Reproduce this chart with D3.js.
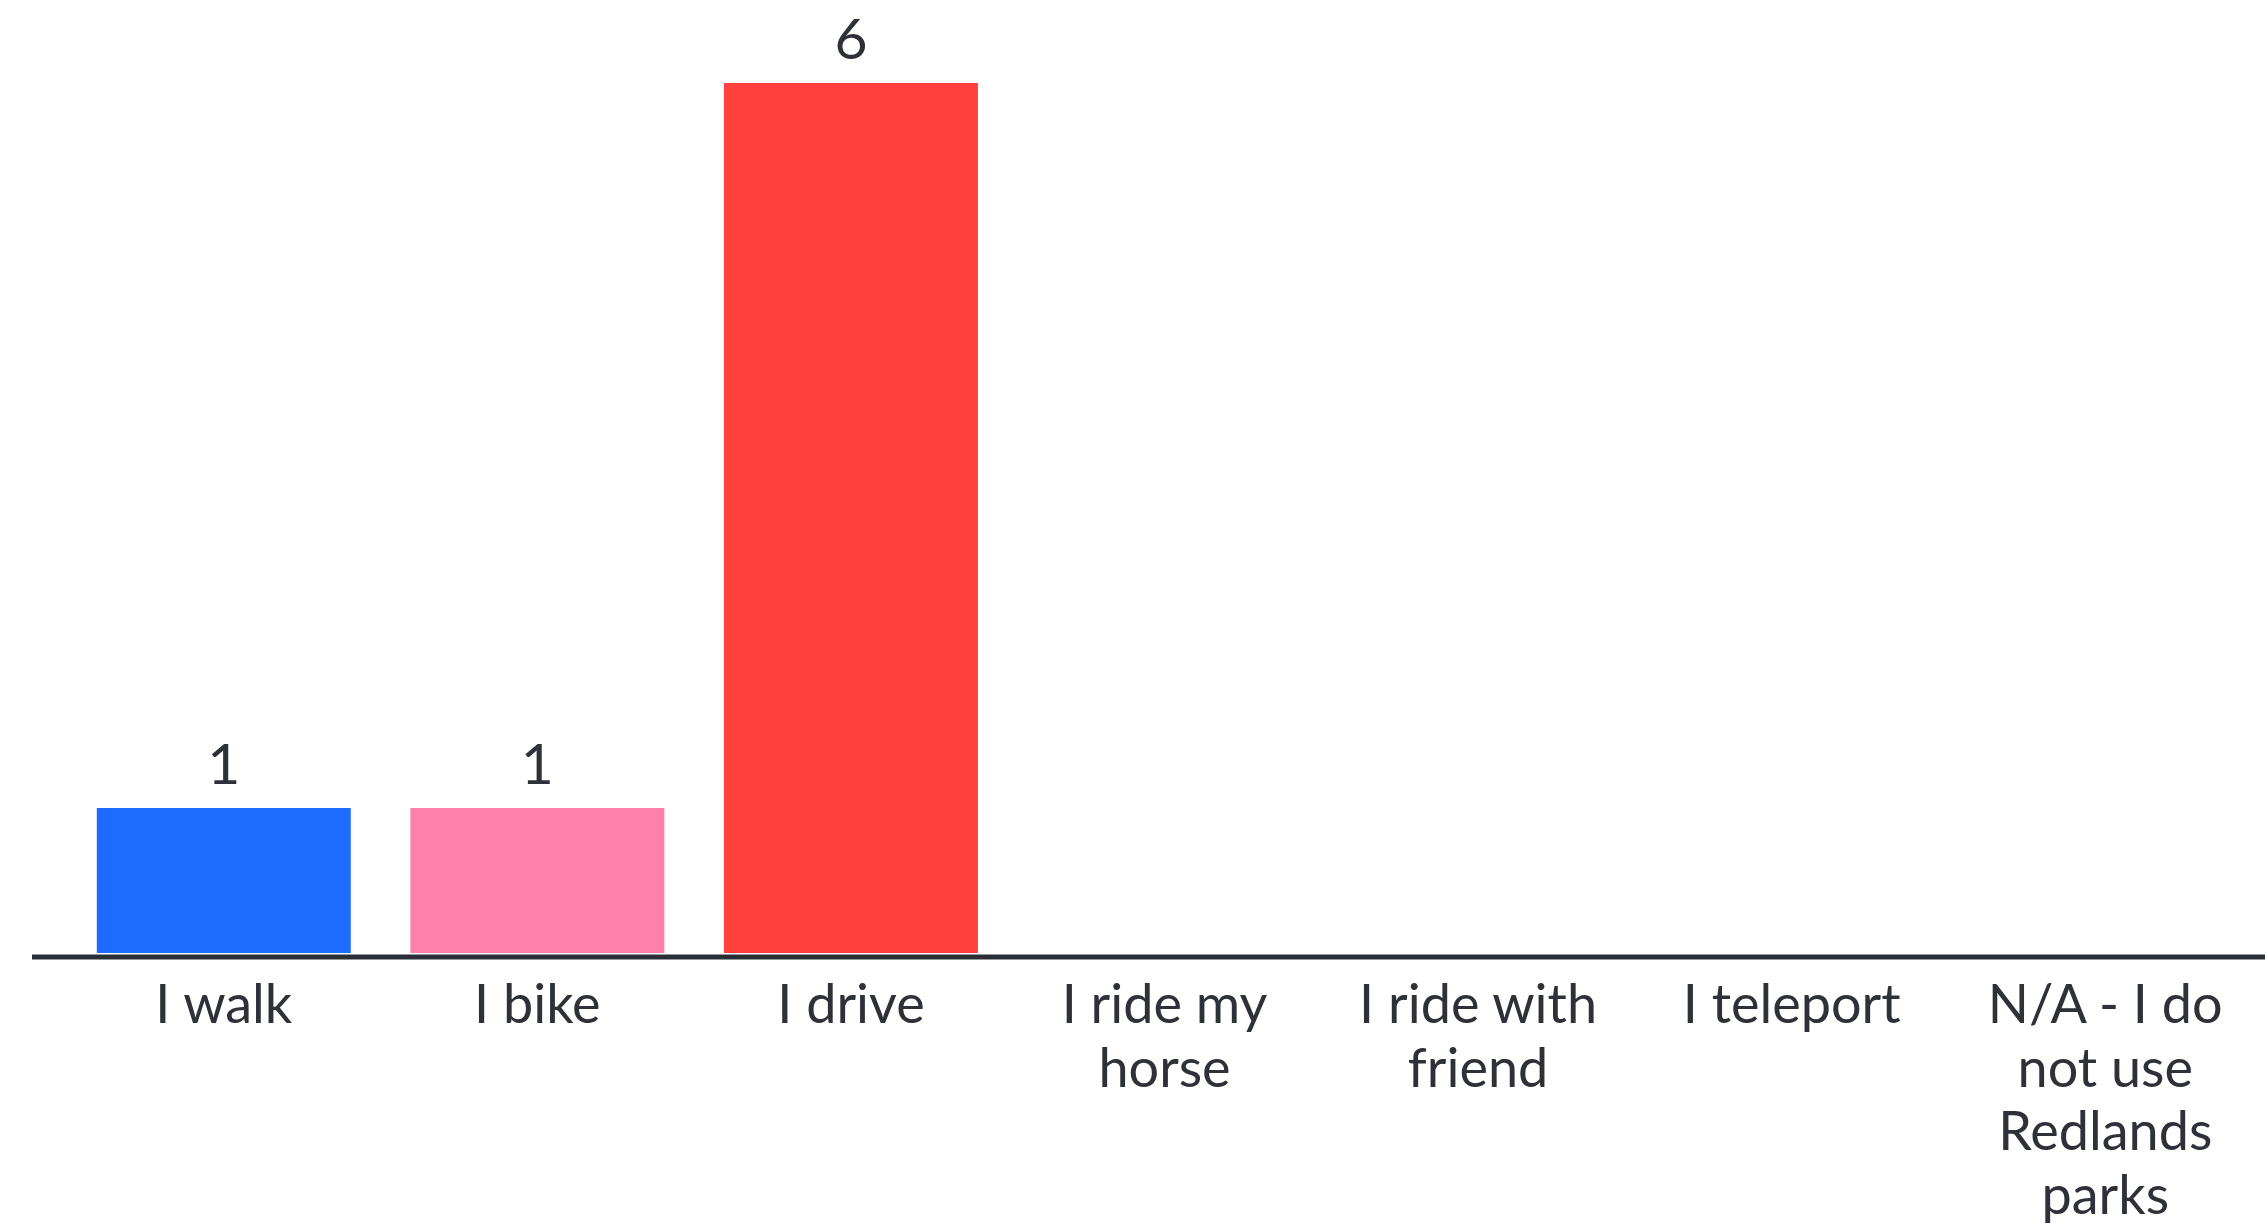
<!DOCTYPE html>
<html>
<head>
<meta charset="utf-8">
<script src="https://cdn.jsdelivr.net/npm/d3@7"></script>
<style>
  html, body { margin: 0; padding: 0; background: #ffffff; }
  svg { display: block; }
</style>
</head>
<body>
<script>
const categories = ['I walk', 'I bike', 'I drive', 'I ride my horse', 'I ride with friend', 'I teleport', 'N/A - I do not use Redlands parks']
const values = [1, 1, 6, 0, 0, 0, 0]
const colors = ['#1d6bff', '#ff80aa', '#ff403d', '#1d6bff', '#1d6bff', '#1d6bff', '#1d6bff']

const width = 2265
const height = 1227
const baseline = 953

const svg = d3.select('body')
  .append('svg')
  .attr('width', width)
  .attr('height', height)

const xScale = d3.scaleBand()
  .domain(categories)
  .range([67, 2262])
  .paddingInner(0.19)
  .paddingOuter(0.095)

const yScale = d3.scaleLinear()
  .domain([0, 6])
  .range([baseline, 83])

const data = categories.map(function (c, i) {
  return { cat: c, value: values[i], color: colors[i] }
})

// bars (zero values draw nothing)
svg.selectAll('rect.bar')
  .data(data.filter(function (d) { return d.value > 0 }))
  .enter()
  .append('rect')
  .attr('class', 'bar')
  .attr('x', function (d) { return xScale(d.cat) })
  .attr('y', function (d) { return yScale(d.value) })
  .attr('width', xScale.bandwidth())
  .attr('height', function (d) { return yScale(0) - yScale(d.value) })
  .attr('fill', function (d) { return d.color })

// value labels
svg.selectAll('text.value')
  .data(data.filter(function (d) { return d.value > 0 }))
  .enter()
  .append('text')
  .attr('class', 'value')
  .text(function (d) { return d.value })
  .attr('x', function (d) { return xScale(d.cat) + xScale.bandwidth() / 2 })
  .attr('y', function (d) { return yScale(d.value) - 24 })
  .attr('text-anchor', 'middle')
  .attr('font-family', 'Lato, sans-serif')
  .attr('font-size', '57px')
  .attr('fill', '#2e3138')

// baseline
svg.append('line')
  .attr('x1', 32)
  .attr('x2', width)
  .attr('y1', baseline + 4)
  .attr('y2', baseline + 4)
  .attr('stroke', '#2a2e35')
  .attr('stroke-width', 5)

// category labels, wrapped to fit the band
const xAxis = d3.axisBottom(xScale).tickSize(0).tickPadding(0)
const axisG = svg.append('g')
  .attr('transform', `translate(0, ${baseline})`)
  .call(xAxis)
axisG.select('.domain').remove()
axisG.selectAll('text')
  .attr('font-family', 'Lato, sans-serif')
  .attr('font-size', '54px')
  .attr('fill', '#2e3138')
  .attr('y', 70)
  .attr('dy', 0)
  .call(wrap, 250)

function wrap (selection, maxWidth) {
  selection.each(function () {
    const text = d3.select(this)
    const words = text.text().split(/\s+/)
    const x = text.attr('x') || 0
    const y = +text.attr('y')
    text.text(null)
    let line = []
    let lineNo = 0
    let tspan = text.append('tspan').attr('x', x).attr('y', y)
    words.forEach(function (w) {
      line.push(w)
      tspan.text(line.join(' '))
      if (tspan.node().getComputedTextLength() > maxWidth && line.length > 1) {
        line.pop()
        tspan.text(line.join(' '))
        line = [w]
        lineNo++
        tspan = text.append('tspan').attr('x', x).attr('y', y + lineNo * 63.5).text(w)
      }
    })
  })
}
</script>
</body>
</html>
